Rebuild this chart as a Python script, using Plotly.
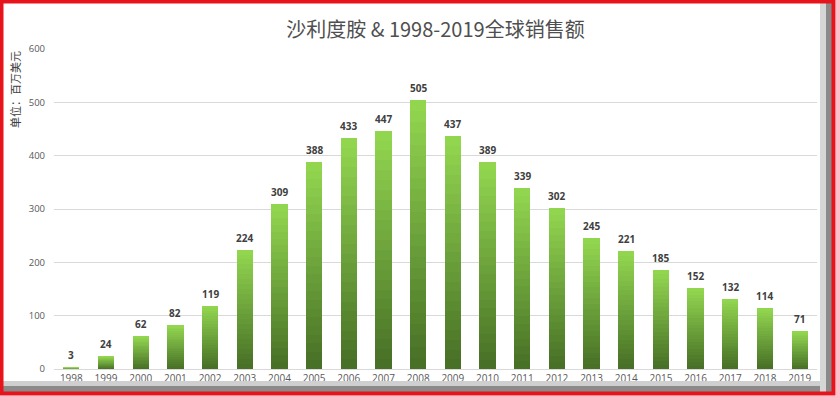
import plotly.graph_objects as go

years = [str(y) for y in range(1998, 2020)]
sales = [3, 24, 62, 82, 119, 224, 309, 388, 433, 447, 505, 437, 389, 339, 302, 245, 221, 185, 152, 132, 114, 71]
title_text = "沙利度胺 & 1998-2019全球销售额"
y_title = "单位：百万美元"
y_ticks = [0, 100, 200, 300, 400, 500, 600]

W, H = 836, 396
ML, MR, MT, MB = 54, 19, 49, 27
PW, PH = W - ML - MR, H - MT - MB


def px(x):
    return (x - ML) / PW


def py(y):
    return (H - MB - y) / PH


N = 24
top_rgb = (146, 214, 80)
bot_rgb = (72, 112, 38)

fig = go.Figure()
for i in range(N):
    t = i / (N - 1)
    c = tuple(round(b + (tp - b) * t) for b, tp in zip(bot_rgb, top_rgb))
    fig.add_trace(go.Bar(
        x=years, y=[v / N for v in sales],
        marker=dict(color="rgb(%d,%d,%d)" % c, line=dict(width=0)),
        showlegend=False, hoverinfo="skip",
    ))

label_annotations = [
    dict(x=idx, y=v, xref="x", yref="y", text=str(v), showarrow=False,
         yanchor="bottom", xanchor="center", yshift=3,
         font=dict(family="Open Sans, Noto Sans CJK SC", size=10, color="#404040", weight="bold"))
    for idx, v in enumerate(sales)
]

shapes = [
    # bottom shadow
    dict(type="rect", xref="paper", yref="paper", x0=px(3), x1=px(831), y0=py(392), y1=py(386),
         fillcolor="#8a8a8a", line=dict(width=0), layer="above"),
    dict(type="rect", xref="paper", yref="paper", x0=px(3), x1=px(831), y0=py(386), y1=py(381),
         fillcolor="#cfcfcf", line=dict(width=0), layer="above"),
    # right shadow
    dict(type="rect", xref="paper", yref="paper", x0=px(826), x1=px(832), y0=py(392), y1=py(3),
         fillcolor="#8a8a8a", line=dict(width=0), layer="above"),
    dict(type="rect", xref="paper", yref="paper", x0=px(820), x1=px(826), y0=py(392), y1=py(3),
         fillcolor="#d6d6d6", line=dict(width=0), layer="above"),
    # red frame
    dict(type="rect", xref="paper", yref="paper", x0=px(1.5), x1=px(833.5), y0=py(393.5), y1=py(1.5),
         fillcolor="rgba(0,0,0,0)", line=dict(color="#e8141b", width=4), layer="above"),
]

fig.update_layout(
    width=W, height=H,
    margin=dict(l=ML, r=MR, t=MT, b=MB, autoexpand=False),
    paper_bgcolor="white", plot_bgcolor="white",
    barmode="stack", bargap=0.53,
    title=dict(text=title_text, x=0.5, xref="paper", y=1 - 30 / H, yanchor="middle",
               font=dict(family="Noto Sans CJK SC, Open Sans", size=20, color="#4f4f4f")),
    xaxis=dict(type="category", range=[-0.5, len(years) - 0.5], showgrid=False, showline=True,
               linecolor="#d9d9d9", automargin=False,
               tickfont=dict(family="Open Sans, Noto Sans CJK SC", size=10, color="#595959"),
               ticks="", fixedrange=True),
    yaxis=dict(range=[0, 600], tickvals=y_ticks, showgrid=True, gridcolor="#d9d9d9",
               zeroline=False, ticks="", ticklabelstandoff=8, automargin=False, fixedrange=True,
               tickfont=dict(family="Open Sans, Noto Sans CJK SC", size=9.5, color="#595959")),
    annotations=[dict(text=y_title, xref="paper", yref="paper", x=px(15), y=py(90),
                      textangle=-90, showarrow=False, xanchor="center", yanchor="middle",
                      font=dict(family="Noto Sans CJK SC", size=11, color="#404040"))] + label_annotations,
    shapes=shapes,
)

fig.write_html("out.html", config={"displayModeBar": False},
               post_script="document.body.style.margin='0';document.body.style.overflow='hidden';")
